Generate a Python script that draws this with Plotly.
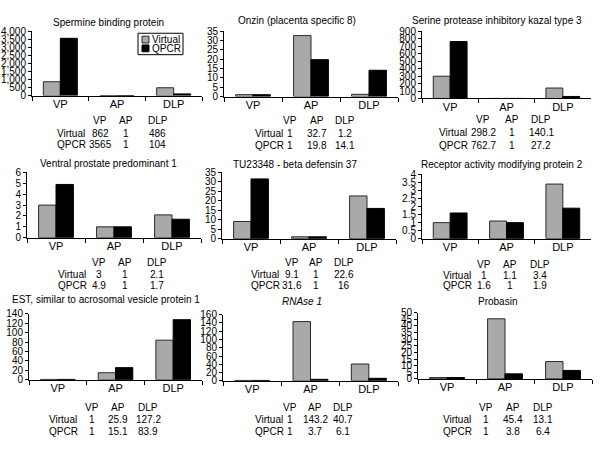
import plotly.graph_objects as go

W, H = 600, 455

# ---------------- data ----------------
categories = ["VP", "AP", "DLP"]
row_labels = ["Virtual", "QPCR"]

titles = [
    "Spermine binding protein",
    "Onzin (placenta specific 8)",
    "Serine protease inhibitory kazal type 3",
    "Ventral prostate predominant 1",
    "TU23348 - beta defensin 37",
    "Receptor activity modifying protein 2",
    "EST, similar to acrosomal vesicle protein 1",
    "<i>RNAse 1</i>",
    "Probasin",
]

virtual_sbp = [862, 1, 486]
qpcr_sbp = [3565, 1, 104]
virtual_onzin = [1, 32.7, 1.2]
qpcr_onzin = [1, 19.8, 14.1]
virtual_spink3 = [298.2, 1, 140.1]
qpcr_spink3 = [762.7, 1, 27.2]
virtual_vpp1 = [3, 1, 2.1]
qpcr_vpp1 = [4.9, 1, 1.7]
virtual_defb37 = [9.1, 1, 22.6]
qpcr_defb37 = [31.6, 1, 16]
virtual_ramp2 = [1, 1.1, 3.4]
qpcr_ramp2 = [1.6, 1, 1.9]
virtual_est = [1, 25.9, 127.2]
qpcr_est = [1, 15.1, 83.9]
virtual_rnase1 = [1, 143.2, 40.7]
qpcr_rnase1 = [1, 3.7, 6.1]
virtual_probasin = [1, 45.4, 13.1]
qpcr_probasin = [1, 3.8, 6.4]

table_virtual = [virtual_sbp, virtual_onzin, virtual_spink3, virtual_vpp1, virtual_defb37,
                 virtual_ramp2, virtual_est, virtual_rnase1, virtual_probasin]
table_qpcr = [qpcr_sbp, qpcr_onzin, qpcr_spink3, qpcr_vpp1, qpcr_defb37,
              qpcr_ramp2, qpcr_est, qpcr_rnase1, qpcr_probasin]

# bars as drawn in the original (EST panel bars appear swapped vs. its table)
gray_bars = [virtual_sbp, virtual_onzin, virtual_spink3, virtual_vpp1, virtual_defb37,
             virtual_ramp2, qpcr_est, virtual_rnase1, virtual_probasin]
black_bars = [qpcr_sbp, qpcr_onzin, qpcr_spink3, qpcr_vpp1, qpcr_defb37,
              qpcr_ramp2, virtual_est, qpcr_rnase1, qpcr_probasin]

y_max = [4000, 35, 900, 6, 35, 4, 140, 160, 50]
y_step = [500, 5, 100, 1, 5, 0.5, 20, 20, 5]

# ---------------- layout geometry (pixels) ----------------
# x0, x1, ytop, ybot
plot_px = [
    (32, 202, 26, 92), (224, 398, 26, 93), (422, 591, 26, 95),
    (27, 201, 171, 238), (222, 396, 171, 239), (422, 591, 173, 239),
    (29, 202, 316, 384), (223, 398, 317, 385), (418, 592, 315, 383),
]
title_px = [(108, 17), (297, 15), (497, 15), (108, 162), (295, 163), (502, 163),
            (106, 301), (302, 303), (497, 304)]
# label-left x, col centers, (header y, row1 y, row2 y)
table_px = [
    (55, (100, 126, 158), (118, 131, 142)),
    (253, (290, 317, 345), (118, 131, 143)),
    (437, (483, 512, 541), (117, 130, 143)),
    (56, (99, 125, 157), (263, 276, 287)),
    (249, (292, 316, 344), (263, 276, 287)),
    (441, (484, 510, 540), (266, 277, 287)),
    (47, (92, 118, 148), (412, 425, 437)),
    (253, (290, 315, 343), (412, 425, 437)),
    (441, (486, 513, 543), (412, 425, 437)),
]

FONT = "Liberation Sans, Arial, Helvetica, sans-serif"
GRAY = "#a9a9a9"
EDGE = "#2a2a2a"
TABLE_SIZE = 10

def px_x(v):
    return v / W

def px_y(v):
    return 1 - v / H

fig = go.Figure()
layout = {}
annotations = []

for i in range(9):
    n = i + 1
    xa = "x" if n == 1 else f"x{n}"
    ya = "y" if n == 1 else f"y{n}"
    xk = "xaxis" if n == 1 else f"xaxis{n}"
    yk = "yaxis" if n == 1 else f"yaxis{n}"
    x0, x1, yt, yb = plot_px[i]

    fig.add_trace(go.Bar(x=categories, y=gray_bars[i], xaxis=xa, yaxis=ya,
                         marker=dict(color=GRAY, line=dict(color=EDGE, width=1)),
                         showlegend=False, hoverinfo="x+y"))
    fig.add_trace(go.Bar(x=categories, y=black_bars[i], xaxis=xa, yaxis=ya,
                         marker=dict(color="#000000", line=dict(color="#000000", width=1)),
                         showlegend=False, hoverinfo="x+y"))

    layout[xk] = dict(domain=[px_x(x0), px_x(x1)], anchor=ya,
                      showline=True, linecolor="#000", linewidth=1,
                      ticks="outside", tickson="boundaries", ticklen=4, tickcolor="#000",
                      ticklabelstandoff=-2,
                      showgrid=False, zeroline=False,
                      tickfont=dict(size=11, color="#000", family=FONT), fixedrange=True)
    layout[yk] = dict(domain=[px_y(yb), px_y(yt)], anchor=xa,
                      range=[0, y_max[i]], dtick=y_step[i], tick0=0,
                      tickformat="," if y_max[i] >= 1000 else "",
                      showline=True, linecolor="#000", linewidth=1,
                      ticks="outside", ticklen=3, tickcolor="#000",
                      showgrid=False, zeroline=False,
                      tickfont=dict(size=10, color="#000", family=FONT), fixedrange=True)

    tx, ty = title_px[i]
    annotations.append(dict(text=titles[i], x=px_x(tx), y=px_y(ty), xref="paper", yref="paper",
                            xanchor="center", yanchor="middle", showarrow=False,
                            font=dict(size=10, color="#000", family=FONT)))

    lx, cols, rows = table_px[i]
    for c, cat in enumerate(categories):
        annotations.append(dict(text=cat, x=px_x(cols[c]), y=px_y(rows[0]), xref="paper", yref="paper",
                                xanchor="center", yanchor="middle", showarrow=False,
                                font=dict(size=TABLE_SIZE, color="#000", family=FONT)))
    for r, (lab, vals) in enumerate(zip(row_labels, [table_virtual[i], table_qpcr[i]])):
        annotations.append(dict(text=lab, x=px_x(lx), y=px_y(rows[r + 1]), xref="paper", yref="paper",
                                xanchor="left", yanchor="middle", showarrow=False,
                                font=dict(size=TABLE_SIZE, color="#000", family=FONT)))
        for c, v in enumerate(vals):
            annotations.append(dict(text=f"{v:g}", x=px_x(cols[c]), y=px_y(rows[r + 1]),
                                    xref="paper", yref="paper", xanchor="center", yanchor="middle",
                                    showarrow=False,
                                    font=dict(size=TABLE_SIZE, color="#000", family=FONT)))

# legend box (first panel)
shapes = [
    dict(type="rect", xref="paper", yref="paper", x0=px_x(138), x1=px_x(183), y0=px_y(50), y1=px_y(28),
         line=dict(color="#000", width=1), fillcolor="rgba(0,0,0,0)"),
    dict(type="rect", xref="paper", yref="paper", x0=px_x(142), x1=px_x(149), y0=px_y(38), y1=px_y(31),
         line=dict(color=EDGE, width=1), fillcolor=GRAY),
    dict(type="rect", xref="paper", yref="paper", x0=px_x(142), x1=px_x(149), y0=px_y(47), y1=px_y(40),
         line=dict(color="#000", width=1), fillcolor="#000"),
]
for lab, yy in zip(row_labels, [34.5, 43.5]):
    annotations.append(dict(text=lab, x=px_x(150), y=px_y(yy), xref="paper", yref="paper",
                            xanchor="left", yanchor="middle", showarrow=False,
                            font=dict(size=10, color="#000", family=FONT)))

fig.update_layout(**layout)
fig.update_layout(width=W, height=H, margin=dict(l=0, r=0, t=0, b=0),
                  paper_bgcolor="white", plot_bgcolor="white",
                  barmode="group", bargap=0.4, bargroupgap=0.0,
                  annotations=annotations, shapes=shapes,
                  font=dict(family=FONT, color="#000"), showlegend=False)

fig.write_html("out.html", config={"displayModeBar": False},
               post_script="document.body.style.margin='0';")
